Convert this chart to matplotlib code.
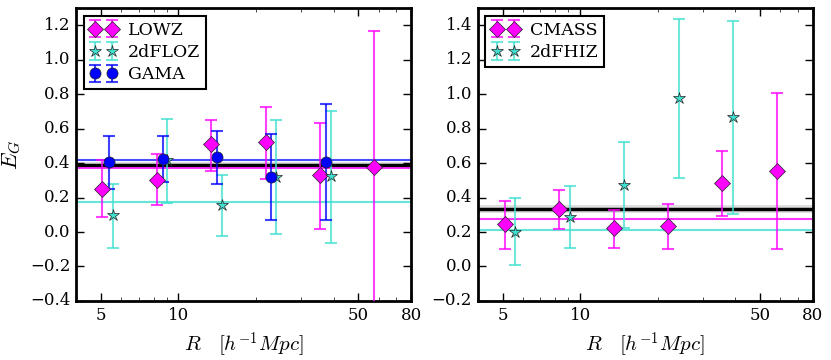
import numpy as np
import matplotlib
matplotlib.use('Agg')
import matplotlib.pyplot as plt

# left panel
lowz_r = [5.06, 8.24, 13.4, 21.8, 35.4, 57.7]
lowz_eg = [0.25, 0.30, 0.51, 0.52, 0.33, 0.375]
lowz_lo = [0.085, 0.155, 0.356, 0.307, 0.02, -0.60]
lowz_hi = [0.415, 0.45, 0.652, 0.726, 0.631, 1.165]

flo_r = [5.58, 9.04, 14.8, 24.0, 39.1]
flo_eg = [0.10, 0.415, 0.155, 0.32, 0.323]
flo_lo = [-0.09, 0.17, -0.026, -0.01, -0.063]
flo_hi = [0.28, 0.658, 0.33, 0.65, 0.705]

gama_r = [5.35, 8.67, 14.08, 22.9, 37.4]
gama_eg = [0.404, 0.424, 0.435, 0.319, 0.406]
gama_lo = [0.249, 0.292, 0.278, 0.071, 0.071]
gama_hi = [0.555, 0.557, 0.588, 0.567, 0.74]

# right panel
cmass_r = [5.12, 8.31, 13.5, 22.0, 35.7, 58.2]
cmass_eg = [0.246, 0.333, 0.221, 0.235, 0.482, 0.555]
cmass_lo = [0.104, 0.219, 0.109, 0.104, 0.292, 0.104]
cmass_hi = [0.382, 0.445, 0.33, 0.362, 0.669, 1.009]

fhi_r = [5.61, 9.14, 14.85, 24.2, 39.4]
fhi_eg = [0.20, 0.289, 0.472, 0.976, 0.866]
fhi_lo = [0.007, 0.109, 0.225, 0.515, 0.304]
fhi_hi = [0.399, 0.466, 0.721, 1.436, 1.426]

# mean values
left_means = {'GAMA': 0.42, 'all': 0.389, 'LOWZ': 0.369, '2dFLOZ': 0.176}
left_band = (0.374, 0.404)
right_means = {'all': 0.335, 'CMASS': 0.277, '2dFHIZ': 0.211}
right_band = (0.312, 0.358)

plt.style.use('classic')
plt.rcParams['font.family'] = 'serif'
plt.rcParams['font.serif'] = ['DejaVu Serif']
plt.rcParams['mathtext.fontset'] = 'cm'

MAG = '#ff00ff'
CYA = '#40e0d0'
BLU = '#0000ff'


def eb(ax, r, eg, lo, hi, color, marker, ms, label):
    eg = np.array(eg)
    yerr = [eg - np.array(lo), np.array(hi) - eg]
    ax.errorbar(r, eg, yerr=yerr, fmt=marker, color=color, mfc=color, mec='#222222',
                ms=ms, ecolor=matplotlib.colors.to_rgba(color, 0.75), elinewidth=1.5,
                capsize=4, capthick=1.5, label=label, zorder=3)


fig = plt.figure(figsize=(8.31, 3.6), dpi=100, facecolor='white')
ax1 = fig.add_axes([0.0915, 0.164, 0.4031, 0.8139])
ax2 = fig.add_axes([0.5748, 0.164, 0.4031, 0.8139])

# left
ax1.axhspan(left_band[0], left_band[1], color='#e0e0e0', lw=0, zorder=1)
ax1.axhline(left_means['all'], color='black', lw=2.5, zorder=2)
ax1.axhline(left_means['GAMA'], color=BLU, lw=1.5, alpha=0.7, zorder=2)
ax1.axhline(left_means['LOWZ'], color=MAG, lw=1.5, alpha=0.8, zorder=2)
ax1.axhline(left_means['2dFLOZ'], color=CYA, lw=1.5, alpha=0.8, zorder=2)
eb(ax1, lowz_r, lowz_eg, lowz_lo, lowz_hi, MAG, 'D', 8.5, 'LOWZ')
eb(ax1, flo_r, flo_eg, flo_lo, flo_hi, CYA, '*', 9, '2dFLOZ')
eb(ax1, gama_r, gama_eg, gama_lo, gama_hi, BLU, 'o', 8, 'GAMA')
ax1.set_ylim(-0.4, 1.3)
ax1.set_ylabel(r'$E_G$', fontsize=16)

# right
ax2.axhspan(right_band[0], right_band[1], color='#e0e0e0', lw=0, zorder=1)
ax2.axhline(right_means['all'], color='black', lw=2.5, zorder=2)
ax2.axhline(right_means['CMASS'], color=MAG, lw=1.5, alpha=0.8, zorder=2)
ax2.axhline(right_means['2dFHIZ'], color=CYA, lw=1.5, alpha=0.8, zorder=2)
eb(ax2, cmass_r, cmass_eg, cmass_lo, cmass_hi, MAG, 'D', 8.5, 'CMASS')
eb(ax2, fhi_r, fhi_eg, fhi_lo, fhi_hi, CYA, '*', 9, '2dFHIZ')
ax2.set_ylim(-0.2, 1.5)

for ax in (ax1, ax2):
    ax.set_xscale('log')
    ax.set_xlim(4, 80)
    ax.set_xticks([5, 10, 50, 80])
    ax.set_xticklabels(['5', '10', '50', '80'])
    ax.tick_params(labelsize=12, length=6, width=1)
    ax.tick_params(which='minor', length=3)
    ax.set_xlabel(r'$R \quad [h^{-1} Mpc]$', fontsize=15)
    for s in ax.spines.values():
        s.set_linewidth(2)
    leg = ax.legend(loc='upper left', numpoints=2, fontsize=12.5, borderpad=0.35,
                    handletextpad=0.6, labelspacing=0.3, borderaxespad=0.45,
                    handlelength=1.6, fancybox=False)
    leg.get_frame().set_linewidth(1.5)

fig.savefig('out.png', dpi=100, facecolor='white')
